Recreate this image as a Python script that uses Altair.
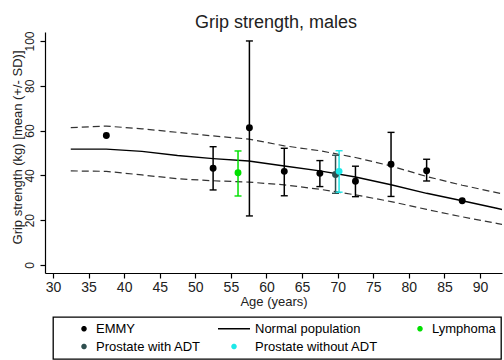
import math
import altair as alt
import pandas as pd

FONT = "Liberation Sans"
INK = "#222222"

# Normal population: mean grip strength and +/- 1 SD band by age (kg)
norm_age = [32.5, 37.5, 42.5, 47.5, 52.5, 57.5, 62.5, 67.5, 72.5, 77.5, 82.5, 87.5, 92.5, 95.0]
norm_mean = [51.7, 51.7, 50.7, 48.9, 47.5, 46.4, 44.2, 42.0, 39.3, 35.8, 32.0, 28.7, 25.2, 23.4]
norm_upper = [61.3, 62.0, 60.8, 59.2, 57.6, 56.2, 53.2, 51.0, 48.0, 44.2, 39.5, 35.6, 32.2, 30.4]
norm_lower = [42.0, 41.8, 40.2, 38.5, 37.6, 37.0, 35.8, 33.8, 31.3, 28.3, 24.8, 21.5, 18.5, 16.8]

# Study groups: mean grip strength with +/- 1 SD (None where no SD is shown)
grp_name = ["EMMY"] * 9 + ["Lymphoma", "Prostate with ADT", "Prostate without ADT"]
grp_age = [37.5, 52.5, 57.6, 62.5, 67.5, 72.5, 77.5, 82.5, 87.5, 56.0, 69.7, 70.2]
grp_mean = [57.8, 43.2, 61.3, 41.8, 40.9, 37.4, 45.0, 42.1, 28.7, 41.2, 40.4, 41.8]
grp_low = [None, 33.5, 21.9, 30.9, 35.0, 30.5, 30.6, 37.5, None, 30.8, 32.0, 32.5]
grp_high = [None, 52.8, 100.0, 52.1, 46.6, 44.1, 59.2, 47.2, None, 50.9, 49.0, 51.0]

legend_names = ["EMMY", "Normal population", "Lymphoma", "Prostate with ADT", "Prostate without ADT"]
legend_colors = ["#000000", "#000000", "#00e000", "#2f4f4f", "#1ee8e8"]

x_ticks = list(range(30, 95, 5))
y_ticks = list(range(0, 101, 10))


def dot_path(cx, r, n=18):
    """Small filled disc as a symbol path in Vega's unit symbol space."""
    pts = [(cx + r * math.cos(2 * math.pi * k / n), r * math.sin(2 * math.pi * k / n))
           for k in range(n)]
    return "M" + "L".join(f"{x:.4f},{y:.4f}" for x, y in pts) + "Z"


# Legend keys: disc next to its label, a rule for the reference curve,
# and a centred disc under that rule's column
KEY_DOT = dot_path(0.5625, 0.125)
KEY_DOT_MID = dot_path(0.0, 0.125)
KEY_LINE = "M-1,0L1,0"
legend_shapes = [KEY_DOT, KEY_LINE, KEY_DOT, KEY_DOT, KEY_DOT_MID]

lines_df = pd.DataFrame({"age": norm_age, "mean": norm_mean,
                         "upper": norm_upper, "lower": norm_lower})
grp_df = pd.DataFrame({"group": grp_name, "age": grp_age, "mean": grp_mean,
                       "low": grp_low, "high": grp_high})

x_scale = alt.Scale(domain=[28.88, 93.09], nice=False, zero=False)
y_scale = alt.Scale(domain=[-3.57, 104.0], nice=False, zero=False)

x_axis = alt.Axis(values=x_ticks, title="Age (years)", grid=False, tickSize=5,
                  labelFontSize=14, labelPadding=2.5, titleFontSize=13,
                  titleBaseline="alphabetic", titleY=32)
y_axis = alt.Axis(values=y_ticks, title="Grip strength (kg) [mean (+/- SD)]",
                  grid=False, tickSize=5, labelFontSize=12, labelAngle=270,
                  labelAlign="center", labelBaseline="alphabetic", labelPadding=7,
                  titleFontSize=13, titleBaseline="alphabetic", titleAlign="center",
                  titleX=-24, titleY=115)

legend = alt.Legend(
    title=None, orient="none", legendX=8, legendY=285,
    direction="horizontal", columns=3, columnPadding=16, rowPadding=4,
    padding=5, strokeColor="black", fillColor="white",
    cornerRadius=0, labelFont=FONT, labelFontSize=13, labelColor="black",
    labelOffset=4, symbolSize=1024, symbolOpacity=1, symbolStrokeWidth=1.5,
    clipHeight=13,
)
group_domain = dict(domain=legend_names)
color = alt.Color("group:N", scale=alt.Scale(range=legend_colors, **group_domain),
                  legend=legend)
stroke = alt.Stroke("group:N", scale=alt.Scale(range=legend_colors, **group_domain),
                    legend=legend)
shape = alt.Shape("group:N", scale=alt.Scale(range=legend_shapes, **group_domain),
                  legend=legend)

base_lines = alt.Chart(lines_df)
x_enc = alt.X("age:Q", scale=x_scale, axis=x_axis)

upper_line = base_lines.mark_line(color="#333333", strokeWidth=1.2,
                                  strokeDash=[7, 4], clip=True).encode(
    x=x_enc, y=alt.Y("upper:Q", scale=y_scale, axis=y_axis))
lower_line = base_lines.mark_line(color="#333333", strokeWidth=1.2,
                                  strokeDash=[7, 4], clip=True).encode(
    x=x_enc, y=alt.Y("lower:Q", scale=y_scale))
mean_line = base_lines.mark_line(color="black", strokeWidth=1.4, clip=True).encode(
    x=x_enc, y=alt.Y("mean:Q", scale=y_scale))

base_grp = alt.Chart(grp_df)
bars = base_grp.mark_rule(strokeWidth=1.5).encode(
    x=x_enc, y=alt.Y("low:Q", scale=y_scale), y2="high:Q", color=color)
cap_low = base_grp.mark_tick(orient="horizontal", size=7, thickness=1.4, opacity=1).encode(
    x=x_enc, y=alt.Y("low:Q", scale=y_scale), color=color)
cap_high = base_grp.mark_tick(orient="horizontal", size=7, thickness=1.4, opacity=1).encode(
    x=x_enc, y=alt.Y("high:Q", scale=y_scale), color=color)
points = base_grp.mark_circle(size=48, opacity=1).encode(
    x=x_enc, y=alt.Y("mean:Q", scale=y_scale), color=color)
# carries the key shapes and outlines into the shared legend; draws nothing
legend_keys = base_grp.mark_point(filled=True, opacity=0, size=1).encode(
    x=x_enc, y=alt.Y("mean:Q", scale=y_scale), color=color, stroke=stroke, shape=shape)

chart = alt.layer(
    upper_line, lower_line, mean_line, bars, cap_low, cap_high, points, legend_keys
).properties(
    width=457, height=241,
    autosize=alt.AutoSizeParams(type="none"),
    padding={"left": 45, "top": 32, "right": 2, "bottom": 87},
    title=alt.Title("Grip strength, males", fontSize=18, font=FONT, color=INK,
                    fontWeight="normal", baseline="alphabetic", frame="group",
                    offset=8, dx=2.5, dy=23),
    background="white",
).configure_view(
    stroke=None
).configure_axis(
    domainColor="black", tickColor="black", domainWidth=1.2, tickWidth=1.2,
    labelFont=FONT, titleFont=FONT, labelColor=INK, titleColor=INK,
    titleFontWeight="normal",
).configure_legend(
    strokeWidth=1.3
)

chart.save("out.html", embed_options={"renderer": "svg", "actions": False})
